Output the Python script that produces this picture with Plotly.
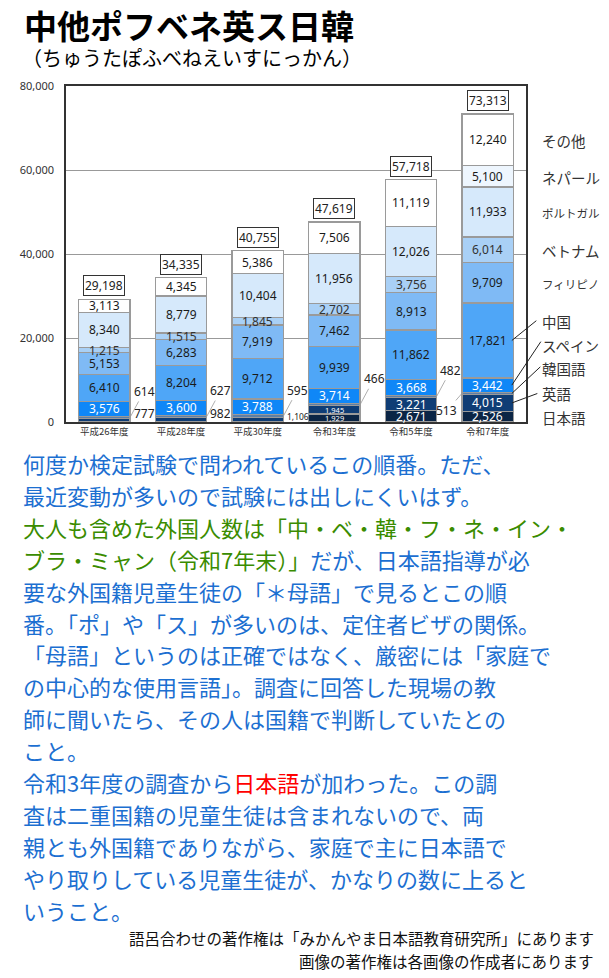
import plotly.graph_objects as go

# 外国籍児童生徒の母語別人数（語呂合わせ用）
years = ["平成26年度", "平成28年度", "平成30年度", "令和3年度", "令和5年度", "令和7年度"]

nihongo = [None, None, None, 1929, 2671, 2526]
eigo = [777, 982, 1106, 1945, 3221, 4015]
kankoku = [614, 627, 595, 466, 482, 513]
spain = [3576, 3600, 3788, 3714, 3668, 3442]
chugoku = [6410, 8204, 9712, 9939, 11862, 17821]
filipino = [5153, 6283, 7919, 7462, 8913, 9709]
vietnam = [1215, 1515, 1845, 2702, 3756, 6014]
portugal = [8340, 8779, 10404, 11956, 12026, 11933]
nepal = [None, None, None, None, None, 5100]
sonota = [3113, 4345, 5386, 7506, 11119, 12240]
totals = [29198, 34335, 40755, 47619, 57718, 73313]

series = [
    ("日本語", nihongo, "#0b2545", "white"),
    ("英語", eigo, "#0f3d75", "white"),
    ("韓国語", kankoku, "#5d7fa6", "white"),
    ("スペイン", spain, "#0f87f7", "white"),
    ("中国", chugoku, "#4fa6f7", "#1a1a1a"),
    ("フィリピノ", filipino, "#7fbaf5", "#1a1a1a"),
    ("ベトナム", vietnam, "#a9d0f6", "#333333"),
    ("ポルトガル", portugal, "#d6e9fb", "#1a1a1a"),
    ("ネパール", nepal, "#eef6fe", "#1a1a1a"),
    ("その他", sonota, "#ffffff", "#1a1a1a"),
]

# the page has an 8px body margin, so the figure is a bit smaller
OFF = 8
W, H = 609 - OFF, 978 - OFF
# plot area in window pixels (for placing the text outside the chart)
L, R, TOP, BOT = 57, 526, 86, 422


def px(p):
    return (p - L) / (R - L)


def py(p):
    return (BOT - p) / (BOT - TOP)


NUM_FONT = "Noto Sans, Open Sans, sans-serif"
JP_FONT = "Noto Sans CJK JP, sans-serif"
BW = 0.67

fig = go.Figure()
for name, vals, color, _ in series:
    fig.add_trace(go.Bar(
        x=years, y=vals, name=name, width=BW,
        marker=dict(color=color, line=dict(color="#9a9a9a", width=1.2)),
        hoverinfo="name+y",
    ))

annotations = []

# segment labels
base = [0] * len(years)
for name, vals, color, tcolor in series:
    for i, v in enumerate(vals):
        if v is None:
            continue
        mid = base[i] + v / 2
        if name == "韓国語":
            # leader-line labels
            if i == 5:
                annotations.append(dict(x=i - BW / 2, y=mid, text=f"{v:,}", showarrow=True,
                                        ax=-15, ay=17, arrowhead=0, arrowwidth=0.8,
                                        arrowcolor="#999", font=dict(size=12, color="#222", family=NUM_FONT)))
            else:
                annotations.append(dict(x=i + BW / 2, y=mid, text=f"{v:,}", showarrow=True,
                                        ax=14, ay=-26, arrowhead=0, arrowwidth=0.8,
                                        arrowcolor="#999", font=dict(size=12, color="#222", family=NUM_FONT)))
        elif name == "英語" and i < 3:
            annotations.append(dict(x=i + 0.52, y=0, yanchor="bottom", yshift=-2, text=f"{v:,}",
                                    showarrow=False,
                                    font=dict(size=8.5 if v > 999 else 12, color="#222", family=NUM_FONT)))
        else:
            small = (name in ("日本語", "英語") and v < 2000)
            annotations.append(dict(x=i, y=mid, text=f"{v:,}", showarrow=False,
                                    font=dict(size=7.5 if small else 12, color=tcolor, family=NUM_FONT)))
        base[i] += v

# totals in boxes
for i, t in enumerate(totals):
    annotations.append(dict(x=i, y=t, yanchor="bottom", yshift=3, text=f"{t:,}", showarrow=False,
                            bordercolor="#333", borderwidth=1, borderpad=1, bgcolor="white",
                            font=dict(size=12, color="#222", family=NUM_FONT)))

# right-side labels
legend_pos = [
    ("その他", 140), ("ネパール", 177), ("ポルトガル", 213), ("ベトナム", 250),
    ("フィリピノ", 284), ("中国", 321), ("スペイン", 345), ("韓国語", 368),
    ("英語", 393), ("日本語", 417),
]
for txt, yp in legend_pos:
    annotations.append(dict(xref="paper", yref="paper", x=px(540), y=py(yp), xanchor="left",
                            yanchor="middle", text=txt, showarrow=False,
                            font=dict(size=11.5 if len(txt) == 5 else 14.5, color="#333",
                                      family=JP_FONT)))

# leader lines from labels to the last bar
cum = {}
acc = 0
for name, vals, _, _ in series:
    v = vals[-1] or 0
    cum[name] = acc + v / 2
    acc += v
for name, ax, ay in [("中国", 26, -21), ("スペイン", 30, -45), ("韓国語", 30, -28), ("英語", 27, -10)]:
    annotations.append(dict(x=5 + BW / 2 - 0.02, y=cum[name], text="", showarrow=True,
                            ax=ax, ay=ay, arrowhead=0, arrowwidth=1, arrowcolor="#222"))

# title
annotations.append(dict(xref="paper", yref="paper", x=px(12), y=py(25), xanchor="left", yanchor="middle",
                        text="<b>中他ポフベネ英ス日韓</b>", showarrow=False,
                        font=dict(size=33, color="black", family=JP_FONT)))
annotations.append(dict(xref="paper", yref="paper", x=px(10), y=py(57), xanchor="left", yanchor="middle",
                        text="（ちゅうたぽふべねえいすにっかん）", showarrow=False,
                        font=dict(size=20, color="black", family=JP_FONT)))

BLUE = "#1c6fd1"
GREEN = "#3a8c00"
RED = "#ff0000"
body = [
    "何度か検定試験で問われているこの順番。ただ、",
    "最近変動が多いので試験には出しにくいはず。",
    f"<span style='color:{GREEN}'>大人も含めた外国人数は「中・ベ・韓・フ・ネ・イン・</span>",
    f"<span style='color:{GREEN}'>ブラ・ミャン（令和7年末）」</span>だが、日本語指導が必",
    "要な外国籍児童生徒の「＊母語」で見るとこの順",
    "番。「ポ」や「ス」が多いのは、定住者ビザの関係。",
    "「母語」というのは正確ではなく、厳密には「家庭で",
    "の中心的な使用言語」。調査に回答した現場の教",
    "師に聞いたら、その人は国籍で判断していたとの",
    "こと。",
    f"令和3年度の調査から<span style='color:{RED}'>日本語</span>が加わった。この調",
    "査は二重国籍の児童生徒は含まれないので、両",
    "親とも外国籍でありながら、家庭で主に日本語で",
    "やり取りしている児童生徒が、かなりの数に上ると",
    "いうこと。",
]
for k, line in enumerate(body):
    annotations.append(dict(xref="paper", yref="paper", x=px(11), y=py(463 + k * 31.9),
                            xanchor="left", yanchor="middle", text=line, showarrow=False,
                            font=dict(size=22, color=BLUE, family=JP_FONT)))

footer = [
    ("語呂合わせの著作権は「みかんやま日本語教育研究所」にあります", 938),
    ("画像の著作権は各画像の作成者にあります", 961),
]
for line, yp in footer:
    annotations.append(dict(xref="paper", yref="paper", x=px(597), y=py(yp),
                            xanchor="right", yanchor="middle", text=line, showarrow=False,
                            font=dict(size=15.5, color="#111", family=JP_FONT)))

fig.update_layout(
    width=W, height=H,
    barmode="stack",
    showlegend=False,
    plot_bgcolor="white",
    paper_bgcolor="white",
    margin=dict(l=L - OFF, r=W - (R - OFF), t=TOP - OFF, b=H - (BOT - OFF), pad=0),
    annotations=annotations,
    font=dict(family=NUM_FONT),
)
fig.update_xaxes(
    showline=True, linecolor="#333", linewidth=1.5, mirror=True,
    tickfont=dict(size=9.5, color="#333", family=JP_FONT),
    ticks="", range=[-0.5, 5.5],
)
fig.update_yaxes(
    range=[0, 80000], dtick=20000, tickformat=",",
    showline=True, linecolor="#333", linewidth=1.5, mirror=True,
    gridcolor="#999", gridwidth=1, zeroline=False,
    tickfont=dict(size=11, color="#333", family=NUM_FONT),
    ticks="", ticklabelstandoff=8,
)

fig.write_html("out.html")
